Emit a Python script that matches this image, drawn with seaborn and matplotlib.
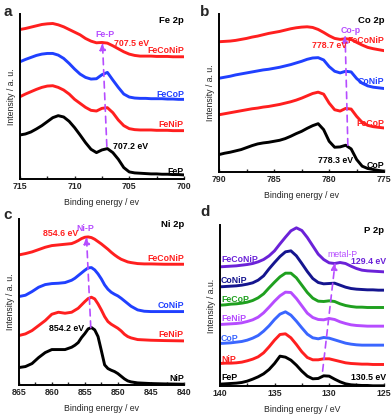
import numpy as np
import pandas as pd
import matplotlib
matplotlib.use("Agg")
import matplotlib.pyplot as plt
import seaborn as sns

# ---------------- data ----------------
# Panel a: Fe 2p  (binding energy, eV; intensity in arbitrary units)
fe_x = [715, 714.5, 714, 713.5, 713, 712.5, 712, 711.5, 711, 710.5, 710, 709.5, 709, 708.5, 708,
        707.5, 707, 706.5, 706, 705.5, 705, 704.5, 704, 703.5, 703, 702.5, 702, 701.5, 701, 700.5, 700]
fe_FeP = [132, 135, 141, 150, 160, 172, 184, 190, 186, 173, 154, 132, 109, 89, 79,
          87, 91, 79, 59, 34, 21, 18, 17, 16, 15, 15, 14, 14, 13, 13, 12]
fe_FeNiP = [247, 255, 262, 269, 275, 279, 280, 275, 267, 255, 239, 227, 215, 206, 204,
            212, 214, 199, 177, 160, 151, 148, 147, 147, 147, 146, 146, 146, 145, 145, 145]
fe_FeCoP = [352, 359, 365, 371, 375, 377, 377, 372, 362, 347, 330, 315, 305, 300, 301,
            313, 320, 297, 275, 255, 246, 243, 242, 242, 241, 241, 241, 240, 240, 239, 239]
fe_FeCoNiP = [449, 452, 456, 460, 464, 466, 467, 463, 457, 449, 441, 433, 422, 414, 409,
              410, 408, 400, 391, 382, 375, 371, 369, 369, 369, 368, 368, 368, 367, 367, 367]

# Panel b: Co 2p
co_x = [790, 789.5, 789, 788.5, 788, 787.5, 787, 786.5, 786, 785.5, 785, 784.5, 784, 783.5, 783,
        782.5, 782, 781.5, 781, 780.5, 780, 779.5, 779, 778.5, 778, 777.5, 777, 776.5, 776, 775.5, 775]
co_CoP = [52, 56, 59, 63, 67, 73, 79, 84, 87, 89, 92, 95, 100, 107, 115,
          122, 131, 139, 145, 127, 92, 74, 75, 80, 69, 37, 17, 10, 7, 4, 2]
co_FeCoP = [172, 175, 178, 181, 184, 187, 190, 192, 195, 197, 200, 203, 207, 211, 216,
            222, 229, 236, 240, 234, 207, 187, 183, 191, 189, 167, 149, 140, 136, 134, 132]
co_CoNiP = [282, 285, 288, 292, 295, 298, 301, 304, 307, 309, 312, 315, 319, 323, 328,
            333, 339, 343, 344, 337, 317, 303, 298, 303, 301, 281, 267, 259, 255, 253, 251]
co_FeCoNiP = [392, 393, 394, 396, 399, 402, 406, 409, 413, 417, 420, 423, 427, 431, 434,
              436, 437, 435, 429, 420, 410, 402, 399, 401, 399, 390, 382, 375, 371, 368, 365]

# Panel c: Ni 2p
ni_x = [865, 864, 863, 862, 861, 860, 859, 858, 857, 856.5, 856, 855.5, 855, 854.5, 854, 853.5,
        853, 852.5, 852, 851.5, 851, 850.5, 850, 849.5, 849, 848.5, 848, 847, 846, 845, 843, 840]
ni_NiP = [52, 55, 64, 82, 97, 106, 106, 106, 113, 119, 127, 142, 154, 168, 172, 165,
          145, 103, 60, 49, 44, 40, 34, 26, 18, 12, 9, 6, 5, 4, 3, 2]
ni_FeNiP = [148, 153, 163, 178, 193, 212, 218, 215, 218, 224, 230, 240, 250, 259, 263, 258,
            243, 225, 205, 190, 182, 176, 170, 162, 152, 145, 141, 136, 135, 134, 133, 132]
ni_CoNiP = [265, 269, 280, 293, 301, 304, 305, 307, 314, 320, 328, 336, 344, 351, 352, 345,
            333, 318, 300, 287, 278, 272, 267, 260, 252, 244, 236, 225, 221, 220, 220, 220]
ni_FeCoNiP = [390, 394, 399, 406, 413, 418, 420, 422, 424, 428, 433, 439, 443, 444, 442, 437,
              430, 423, 415, 407, 398, 390, 383, 377, 373, 369, 367, 364, 363, 363, 362, 362]

# Panel d: P 2p
p_x = [140, 139.5, 139, 138.5, 138, 137.5, 137, 136.5, 136, 135.5, 135, 134.5, 134, 133.5, 133,
       132.5, 132, 131.5, 131, 130.5, 130, 129.5, 129, 128.5, 128, 127.5, 127, 126.5, 126, 125.5, 125]
p_FeP = [6, 7, 8, 9, 11, 15, 21, 28, 37, 50, 68, 90, 87, 78, 63,
         45, 30, 22, 23, 31, 30, 21, 13, 7, 4, 3, 2, 2, 1, 1, 1]
p_NiP = [68, 69, 69, 70, 72, 76, 81, 88, 100, 118, 138, 155, 157, 145, 125,
         103, 86, 79, 79, 82, 82, 78, 74, 70, 68, 67, 66, 66, 65, 65, 65]
p_CoP = [128, 129, 130, 132, 134, 138, 144, 152, 165, 181, 200, 216, 223, 213, 195,
         175, 156, 145, 142, 146, 144, 139, 134, 129, 126, 124, 123, 123, 123, 123, 123]
p_FeNiP = [185, 186, 187, 188, 190, 194, 199, 207, 220, 237, 255, 271, 282, 281, 263,
           241, 219, 206, 200, 199, 203, 200, 193, 188, 184, 182, 181, 180, 180, 180, 180]
p_FeCoP = [243, 244, 246, 247, 249, 252, 257, 265, 277, 295, 312, 328, 339, 339, 325,
           303, 281, 264, 255, 254, 256, 254, 247, 242, 239, 237, 237, 236, 236, 236, 236]
p_CoNiP = [298, 299, 300, 301, 303, 306, 310, 318, 331, 352, 371, 389, 403, 406, 391,
           368, 344, 323, 311, 307, 308, 309, 303, 297, 293, 291, 290, 289, 289, 288, 288]
p_FeCoNiP = [358, 359, 360, 361, 363, 365, 368, 373, 380, 391, 406, 427, 447, 466, 475,
             467, 446, 421, 396, 380, 370, 368, 371, 368, 360, 353, 348, 346, 345, 344, 343]

# ---------------- styling ----------------
RED = "#ff1f1f"
BLUE = "#2040ff"
BLACK = "#000000"
PURPLE = "#6b22d8"
NAVY = "#15158f"
GREEN = "#1fa01f"
VIOLET = "#b64cff"
LBLUE = "#3a66ff"
ARROW = "#b64cff"

sns.set_theme(style="ticks")
plt.rcParams["font.family"] = ["Liberation Sans", "DejaVu Sans"]

fig = plt.figure(figsize=(3.92, 4.17), dpi=100)

positions = {
    "a": [0.051, 0.571, 0.418, 0.395],
    "b": [0.559, 0.588, 0.421, 0.378],
    "c": [0.048, 0.077, 0.421, 0.398],
    "d": [0.561, 0.074, 0.418, 0.386],
}

LW = 2.1
FS = 6.3


def make_df(x, series):
    frames = []
    for name, vals in series.items():
        frames.append(pd.DataFrame({"x": x, "y": vals, "s": name}))
    return pd.concat(frames, ignore_index=True)


def draw(ax, x, series, palette):
    df = make_df(x, series)
    sns.lineplot(data=df, x="x", y="y", hue="s", palette=palette, lw=LW, legend=False,
                 ax=ax, sort=False, solid_joinstyle="round", solid_capstyle="round")


def setup(ax, xlim, ylim, major, xlabel, ylabel):
    ax.set_xlim(*xlim)
    ax.set_ylim(*ylim)
    ax.set_xticks(major)
    ax.set_xticklabels([str(t) for t in major], fontsize=FS, fontweight="bold")
    step = abs(major[1] - major[0]) / 2
    ax.set_xticks(np.arange(min(xlim), max(xlim) + 0.01, step), minor=True)
    ax.tick_params(axis="x", which="major", direction="in", length=2.5, width=1, pad=2)
    ax.tick_params(axis="x", which="minor", direction="in", length=2, width=1)
    ax.set_yticks([])
    sns.despine(ax=ax)
    for sp in ("left", "bottom"):
        ax.spines[sp].set_linewidth(1.4)
        ax.spines[sp].set_color("black")
    ax.set_xlabel(xlabel, fontsize=FS, labelpad=5)
    ax.set_ylabel(ylabel, fontsize=FS, labelpad=3)
    ax.set_facecolor("white")


def arrow(ax, x0, y0, x1, y1):
    ax.annotate("", xy=(x1, y1), xytext=(x0, y0),
                arrowprops=dict(arrowstyle="-|>,head_length=0.35,head_width=0.15",
                                color=ARROW, lw=1.2, ls=(0, (4, 3)),
                                shrinkA=0, shrinkB=0))


def txt(ax, x, y, s, color, ha="center", bold=True, size=FS):
    ax.text(x, y, s, color=color, ha=ha, va="center", fontsize=size,
            fontweight="bold" if bold else "normal")


# ---- panel a ----
ax = fig.add_axes(positions["a"])
draw(ax, fe_x, {"FeP": fe_FeP, "FeNiP": fe_FeNiP, "FeCoP": fe_FeCoP, "FeCoNiP": fe_FeCoNiP},
     {"FeP": BLACK, "FeNiP": RED, "FeCoP": BLUE, "FeCoNiP": RED})
setup(ax, (715, 700), (0, 495), [715, 710, 705, 700], "Binding energy / ev", "Intensity / a. u.")
arrow(ax, 707.05, 98, 707.45, 410)
txt(ax, 707.25, 434, "Fe-P", ARROW)
txt(ax, 704.8, 407, "707.5 eV", RED)
txt(ax, 700, 387, "FeCoNiP", RED, ha="right")
txt(ax, 700, 254, "FeCoP", BLUE, ha="right")
txt(ax, 700, 162, "FeNiP", RED, ha="right")
txt(ax, 700, 22, "FeP", BLACK, ha="right")
txt(ax, 704.9, 97, "707.2 eV", BLACK)
txt(ax, 700, 477, "Fe 2p", BLACK, ha="right", size=6.8)

# ---- panel b ----
ax = fig.add_axes(positions["b"])
draw(ax, co_x, {"CoP": co_CoP, "FeCoP": co_FeCoP, "CoNiP": co_CoNiP, "FeCoNiP": co_FeCoNiP},
     {"CoP": BLACK, "FeCoP": RED, "CoNiP": BLUE, "FeCoNiP": RED})
setup(ax, (790, 775), (0, 475), [790, 785, 780, 775], "Binding energy / ev", "Intensity / a. u.")
arrow(ax, 778.3, 80, 778.55, 412)
txt(ax, 778.0, 427, "Co-p", ARROW)
txt(ax, 780.0, 382, "778.7 eV", RED)
txt(ax, 775, 395, "FeCoNiP", RED, ha="right")
txt(ax, 775, 272, "CoNiP", BLUE, ha="right")
txt(ax, 775, 147, "FeCoP", RED, ha="right")
txt(ax, 775, 20, "CoP", BLACK, ha="right")
txt(ax, 779.4, 35, "778.3 eV", BLACK)
txt(ax, 775, 457, "Co 2p", BLACK, ha="right", size=6.8)

# ---- panel c ----
ax = fig.add_axes(positions["c"])
draw(ax, ni_x, {"NiP": ni_NiP, "FeNiP": ni_FeNiP, "CoNiP": ni_CoNiP, "FeCoNiP": ni_FeCoNiP},
     {"NiP": BLACK, "FeNiP": RED, "CoNiP": BLUE, "FeCoNiP": RED})
setup(ax, (865, 840), (0, 498), [865, 860, 855, 850, 845, 840], "Binding energy / ev", "Intensity / a. u.")
arrow(ax, 854.1, 172, 854.75, 445)
txt(ax, 854.9, 468, "Ni-P", ARROW)
txt(ax, 858.6, 453, "854.6 eV", RED)
txt(ax, 857.8, 168, "854.2 eV", BLACK)
txt(ax, 840, 380, "FeCoNiP", RED, ha="right")
txt(ax, 840, 237, "CoNiP", BLUE, ha="right")
txt(ax, 840, 150, "FeNiP", RED, ha="right")
txt(ax, 840, 18, "NiP", BLACK, ha="right")
txt(ax, 840, 480, "Ni 2p", BLACK, ha="right", size=6.8)

# ---- panel d ----
ax = fig.add_axes(positions["d"])
pal_d = {"FeP": BLACK, "NiP": RED, "CoP": LBLUE, "FeNiP": VIOLET, "FeCoP": GREEN, "CoNiP": NAVY, "FeCoNiP": PURPLE}
draw(ax, p_x, {"FeP": p_FeP, "NiP": p_NiP, "CoP": p_CoP, "FeNiP": p_FeNiP,
               "FeCoP": p_FeCoP, "CoNiP": p_CoNiP, "FeCoNiP": p_FeCoNiP}, pal_d)
setup(ax, (140, 125), (0, 483), [140, 135, 130, 125], "Binding energy / eV", "Intensity / a.u.")
arrow(ax, 130.6, 45, 129.45, 372)
txt(ax, 128.8, 395, "metal-P", ARROW, bold=False)
txt(ax, 126.4, 375, "129.4 eV", PURPLE)
txt(ax, 126.4, 25, "130.5 eV", BLACK)
for name, yy in [("FeCoNiP", 380), ("CoNiP", 316), ("FeCoP", 260), ("FeNiP", 203),
                 ("CoP", 143), ("NiP", 81), ("FeP", 25)]:
    txt(ax, 139.9, yy, name, pal_d[name], ha="left")
txt(ax, 125, 468, "P 2p", BLACK, ha="right", size=6.8)

# panel letters
for lab, (px, py) in {"a": (3, 12), "b": (200, 12), "c": (3, 215), "d": (200, 212)}.items():
    fig.text(px / 392, 1 - py / 417, lab, fontsize=11, fontweight="bold", ha="left", va="center")

fig.savefig("out.png", dpi=100, facecolor="white")
